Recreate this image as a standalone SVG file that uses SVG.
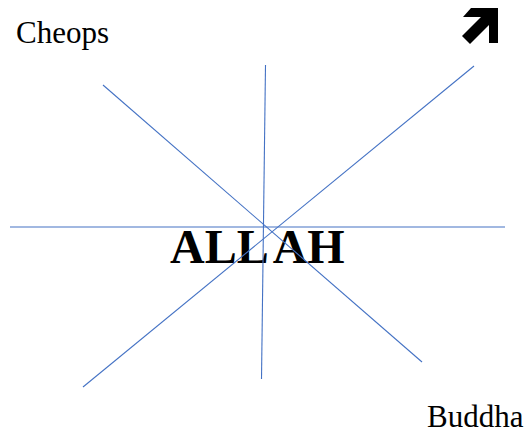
<svg xmlns="http://www.w3.org/2000/svg" width="527" height="436" viewBox="0 0 527 436">
<style>
.ln{stroke:#4472C4;stroke-width:1.1;fill:none}
.t{font-family:"Liberation Serif","Times New Roman",serif;fill:#000}
</style>
<rect width="527" height="436" fill="#fff"/>
<g id="cheops"><text class="t" x="16" y="43" font-size="31">Cheops</text></g>
<g id="buddha"><text class="t" x="427" y="427" font-size="31">Buddha</text></g>
<g id="allah"><text class="t" x="170" y="263" font-size="48" font-weight="bold">ALL<tspan dx="4">AH</tspan></text></g>
<g id="arrow"><polygon points="498,8 471,8 463,17 481,17 462,36 470,44 489,25 489,43 498,43" fill="#000"/></g>
<g id="connectors">
<line class="ln" x1="10" y1="227" x2="505" y2="227"/>
<line class="ln" x1="265.5" y1="65" x2="261.5" y2="379"/>
<line class="ln" x1="103" y1="85" x2="422" y2="362"/>
<line class="ln" x1="474" y1="66" x2="83" y2="387"/>
</g>
</svg>
